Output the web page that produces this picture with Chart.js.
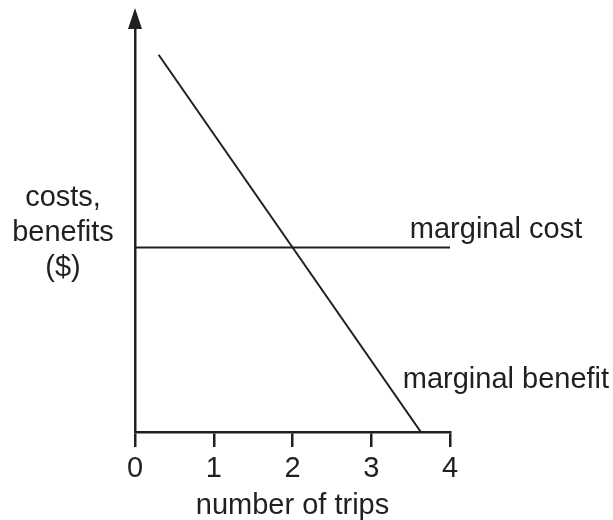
<!DOCTYPE html>
<html>
<head>
<meta charset="utf-8">
<script src="https://cdn.jsdelivr.net/npm/chart.js@4.4.1/dist/chart.umd.min.js"></script>
<style>
  html, body { margin: 0; padding: 0; background: #fff; }
  #wrap { width: 613px; height: 520px; }
</style>
</head>
<body>
<div id="wrap"><canvas id="chart"></canvas></div>
<script>
// values
const tripTicks = [0, 1, 2, 3, 4];
const costX = [0, 4];
const costY = [4.5, 4.5];
const benefitX = [0.3, 3.63];
const benefitY = [9.2, 0];
const yLabelLines = ['costs,', 'benefits', '($)'];

const ink = '#231f20';
const font = '"Liberation Sans", Arial, Helvetica, sans-serif';

const toPoints = (xs, ys) => xs.map((x, i) => ({ x: x, y: ys[i] }));

const annotate = {
    id: 'annotate',
    afterDraw(chart) {
        const ctx = chart.ctx;
        const area = chart.chartArea;
        const xs = chart.scales.x;
        const ys = chart.scales.y;

        // arrow head on the y axis
        ctx.save();
        ctx.fillStyle = ink;
        ctx.beginPath();
        ctx.moveTo(area.left, area.top - 14);
        ctx.lineTo(area.left - 7, area.top + 7);
        ctx.lineTo(area.left + 7, area.top + 7);
        ctx.closePath();
        ctx.fill();

        ctx.font = '29px ' + font;
        ctx.textBaseline = 'middle';

        // y axis label, horizontal, three lines
        ctx.textAlign = 'center';
        yLabelLines.forEach((t, i) => ctx.fillText(t, 63, 198 + i * 35));

        // curve labels
        ctx.textAlign = 'left';
        ctx.fillText('marginal cost', xs.getPixelForValue(3.49), ys.getPixelForValue(costY[0]) - 18);
        ctx.fillText('marginal benefit', xs.getPixelForValue(3.4), ys.getPixelForValue(1.27));
        ctx.restore();
    }
};

new Chart(document.getElementById('chart'), {
    type: 'scatter',
    data: {
        datasets: [
            {
                label: 'marginal cost',
                data: toPoints(costX, costY),
                showLine: true,
                borderColor: ink,
                borderWidth: 2,
                pointRadius: 0
            },
            {
                label: 'marginal benefit',
                data: toPoints(benefitX, benefitY),
                showLine: true,
                borderColor: ink,
                borderWidth: 2,
                pointRadius: 0
            }
        ]
    },
    options: {
        responsive: true,
        maintainAspectRatio: false,
        animation: false,
        layout: { padding: { top: 22, right: 163, left: 0, bottom: 0 } },
        plugins: {
            legend: { display: false },
            tooltip: { enabled: false }
        },
        scales: {
            x: {
                type: 'linear',
                min: 0,
                max: 4,
                afterBuildTicks: s => { s.ticks = tripTicks.map(v => ({ value: v })); },
                afterFit: s => { s.height = 88; },
                ticks: {
                    color: ink,
                    font: { size: 29, family: font },
                    padding: 5,
                    maxRotation: 0
                },
                grid: {
                    drawOnChartArea: false,
                    drawTicks: true,
                    tickLength: 15,
                    color: ink,
                    lineWidth: 2.5
                },
                border: { display: true, color: ink, width: 2.5 },
                title: {
                    display: true,
                    text: 'number of trips',
                    color: ink,
                    font: { size: 29, family: font, lineHeight: 1 },
                    padding: { top: 0, bottom: 0 }
                }
            },
            y: {
                min: 0,
                max: 10,
                afterFit: s => { s.width = 135; },
                ticks: { display: false },
                grid: { display: false },
                border: { display: true, color: ink, width: 2.5 }
            }
        }
    },
    plugins: [annotate]
});
</script>
</body>
</html>
